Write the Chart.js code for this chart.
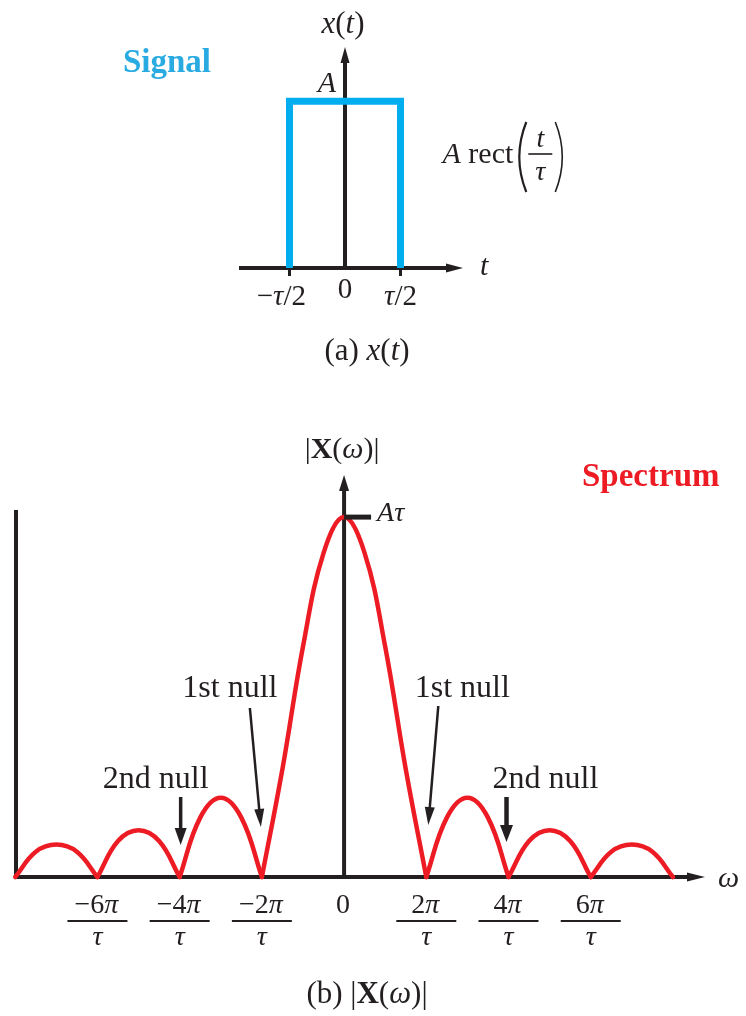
<!DOCTYPE html>
<html>
<head>
<meta charset="utf-8">
<title>Rect pulse and its spectrum</title>
<script src="https://cdn.jsdelivr.net/npm/chart.js@4.4.1/dist/chart.umd.min.js"></script>
<style>
  html, body { margin: 0; padding: 0; background: #fff; }
  #wrap { position: relative; width: 746px; height: 1016px; overflow: hidden; }
  #signalChart { position: absolute; left: 0; top: 0; }
  #spectrumChart { position: absolute; left: 0; top: 400px; }
</style>
</head>
<body>
<div id="wrap">
  <canvas id="signalChart" width="746" height="380"></canvas>
  <canvas id="spectrumChart" width="746" height="616"></canvas>
</div>
<script>
// x(t) = A rect(t/tau): t in units of tau, amplitude in units of A
const signalT = [-0.5, -0.5, 0.5, 0.5];
const signalX = [0, 1, 1, 0];
const signalTicks = [-0.5, 0, 0.5];
const signalTickLabels = ['−τ/2', '0', 'τ/2'];

// |X(w)|: w in units of pi/tau, magnitude in units of A*tau
const omega = [-8, -7.5, -7, -6.5, -6, -5.5, -5, -4.5, -4, -3.5, -3, -2.5, -2,
               -1.5, -1, -0.5, 0, 0.5, 1, 1.5, 2,
               2.5, 3, 3.5, 4, 4.5, 5, 5.5, 6, 6.5, 7, 7.5, 8];
const magnitude = [0, 0.07, 0.09, 0.07, 0, 0.10, 0.13, 0.10, 0, 0.165, 0.22, 0.165, 0,
                   0.30, 0.64, 0.90, 1.00, 0.90, 0.64, 0.30, 0,
                   0.165, 0.22, 0.165, 0, 0.10, 0.13, 0.10, 0, 0.07, 0.09, 0.07, 0];
const spectrumTicks = [-6, -4, -2, 0, 2, 4, 6];
const spectrumTickLabels = ['−6π', '−4π', '−2π', '0', '2π', '4π', '6π'];

const SERIF = '"Liberation Serif", "Times New Roman", serif';
const INK = '#231f20';
const BLUE = '#00aeef';
const RED = '#ed1c24';

// --- kleine Zeichenhelfer ---
function runFont(style, size) {
    return `${style || ''} ${size}px ${SERIF}`;
}

// runs = [[text, style], ...]
function drawRuns(ctx, runs, x, y, size, align, color) {
    let total = 0;
    runs.forEach(r => { ctx.font = runFont(r[1], size); total += ctx.measureText(r[0]).width; });
    let cx = align === 'center' ? x - total / 2 : (align === 'right' ? x - total : x);
    ctx.fillStyle = color || INK;
    ctx.textAlign = 'left';
    ctx.textBaseline = 'alphabetic';
    runs.forEach(r => {
        ctx.font = runFont(r[1], size);
        ctx.fillText(r[0], cx, y);
        cx += ctx.measureText(r[0]).width;
    });
    return total;
}

// greek letters italic, everything else upright
function mathRuns(str) {
    const runs = [];
    for (const ch of str) {
        const style = 'τπω'.includes(ch) ? 'italic' : '';
        if (runs.length && runs[runs.length - 1][1] === style) runs[runs.length - 1][0] += ch;
        else runs.push([ch, style]);
    }
    return runs;
}

function runsWidth(ctx, runs, size) {
    let w = 0;
    runs.forEach(r => { ctx.font = runFont(r[1], size); w += ctx.measureText(r[0]).width; });
    return w;
}

function line(ctx, x1, y1, x2, y2, width, color) {
    ctx.beginPath();
    ctx.moveTo(x1, y1);
    ctx.lineTo(x2, y2);
    ctx.lineWidth = width;
    ctx.strokeStyle = color || INK;
    ctx.lineCap = 'butt';
    ctx.stroke();
}

function arrowHead(ctx, tipX, tipY, angle, len, half, color) {
    ctx.save();
    ctx.translate(tipX, tipY);
    ctx.rotate(angle);
    ctx.beginPath();
    ctx.moveTo(0, 0);
    ctx.lineTo(-len, -half);
    ctx.lineTo(-len, half);
    ctx.closePath();
    ctx.fillStyle = color || INK;
    ctx.fill();
    ctx.restore();
}

// arrow from (x1,y1) to tip (x2,y2)
function arrow(ctx, x1, y1, x2, y2, width, len, half) {
    const a = Math.atan2(y2 - y1, x2 - x1);
    line(ctx, x1, y1, x2 - Math.cos(a) * (len - 2), y2 - Math.sin(a) * (len - 2), width);
    arrowHead(ctx, x2, y2, a, len, half);
}

// --- Plugin: Achsen und Beschriftung für x(t) ---
const signalDecor = {
    id: 'signalDecor',
    beforeDatasetsDraw(chart) {
        const ctx = chart.ctx;
        const xs = chart.scales.x, ys = chart.scales.y;
        const x0 = xs.getPixelForValue(0), y0 = ys.getPixelForValue(0);
        ctx.save();
        line(ctx, xs.left, y0, xs.right - 14, y0, 4);
        arrowHead(ctx, xs.right, y0, 0, 17, 4.5);
        line(ctx, x0, y0, x0, ys.top + 14, 4);
        arrowHead(ctx, x0, ys.top, -Math.PI / 2, 16, 4.5);
        signalTicks.forEach(v => {
            if (v !== 0) {
                const px = xs.getPixelForValue(v);
                line(ctx, px, y0, px, y0 + 8, 3);
            }
        });
        ctx.restore();
    },
    afterDraw(chart) {
        const ctx = chart.ctx;
        const xs = chart.scales.x, ys = chart.scales.y;
        const x0 = xs.getPixelForValue(0), y0 = ys.getPixelForValue(0), yA = ys.getPixelForValue(1);
        ctx.save();
        drawRuns(ctx, [['x', 'italic'], ['(', ''], ['t', 'italic'], [')', '']], x0 - 2, ys.top - 14, 31, 'center');
        drawRuns(ctx, [['Signal', 'bold']], 123, 72, 33, 'left', '#29abe2');
        drawRuns(ctx, [['A', 'italic']], x0 - 9, yA - 9, 30, 'right');
        drawRuns(ctx, [['t', 'italic']], xs.right + 17, y0 + 7, 30, 'left');

        // tick labels, minus hangs to the left of the centred part
        signalTicks.forEach((v, i) => {
            const lbl = signalTickLabels[i];
            const px = xs.getPixelForValue(v);
            if (lbl === '0') {
                drawRuns(ctx, mathRuns(lbl), px, y0 + 30, 29, 'center');
                return;
            }
            const neg = lbl.startsWith('−');
            const body = mathRuns(neg ? lbl.slice(1) : lbl);
            const w = runsWidth(ctx, body, 29);
            if (neg) drawRuns(ctx, [['−', '']], px - w / 2, y0 + 37, 29, 'right');
            drawRuns(ctx, body, px - w / 2, y0 + 37, 29, 'left');
        });

        // A rect(t/tau)
        const rx = xs.getPixelForValue(0.5) + 42;
        const ry = 163;
        const w1 = drawRuns(ctx, [['A', 'italic'], [' rect', '']], rx, ry, 30, 'left');
        const pl = rx + w1 + 8;
        ctx.lineWidth = 2.2;
        ctx.strokeStyle = INK;
        ctx.beginPath();
        ctx.moveTo(pl + 5, ry - 41);
        ctx.quadraticCurveTo(pl - 9, ry - 6, pl + 5, ry + 29);
        ctx.stroke();
        const fc = pl + 19;
        drawRuns(ctx, [['t', 'italic']], fc, ry - 16, 28, 'center');
        line(ctx, fc - 12, ry - 9, fc + 12, ry - 9, 1.6);
        drawRuns(ctx, [['τ', 'italic']], fc, ry + 17, 28, 'center');
        const pr = fc + 15;
        ctx.beginPath();
        ctx.moveTo(pr, ry - 41);
        ctx.quadraticCurveTo(pr + 14, ry - 6, pr, ry + 29);
        ctx.stroke();

        drawRuns(ctx, [['(a) ', ''], ['x', 'italic'], ['(', ''], ['t', 'italic'], [')', '']], 367, 360, 31, 'center');
        ctx.restore();
    }
};

// --- Plugin: Achsen und Beschriftung für |X(w)| ---
const spectrumDecor = {
    id: 'spectrumDecor',
    beforeDatasetsDraw(chart) {
        const ctx = chart.ctx;
        const xs = chart.scales.x, ys = chart.scales.y;
        const x0 = xs.getPixelForValue(0), y0 = ys.getPixelForValue(0);
        ctx.save();
        line(ctx, xs.left, y0, xs.right - 14, y0, 4);
        arrowHead(ctx, xs.right, y0, 0, 18, 4.5);
        line(ctx, x0, y0, x0, ys.top + 14, 4);
        arrowHead(ctx, x0, ys.top, -Math.PI / 2, 16, 5);
        // left border line
        line(ctx, xs.left + 2, y0, xs.left + 2, ys.getPixelForValue(1.02), 4);
        ctx.restore();
    },
    afterDraw(chart) {
        const ctx = chart.ctx;
        const xs = chart.scales.x, ys = chart.scales.y;
        const x0 = xs.getPixelForValue(0), y0 = ys.getPixelForValue(0), y1 = ys.getPixelForValue(1);
        ctx.save();
        line(ctx, x0, y1, x0 + 27, y1, 5);
        drawRuns(ctx, [['A', 'italic'], ['τ', 'italic']], x0 + 33, y1 + 4, 28, 'left');
        drawRuns(ctx, [['|', ''], ['X', 'bold'], ['(', ''], ['ω', 'italic'], [')|', '']], x0 - 2, ys.top - 17, 30, 'center');
        drawRuns(ctx, [['Spectrum', 'bold']], 582, 86, 33, 'left', RED);
        drawRuns(ctx, [['ω', 'italic']], xs.right + 13, y0 + 10, 30, 'left');

        // fraction tick labels
        spectrumTicks.forEach((v, i) => {
            const lbl = spectrumTickLabels[i];
            const px = xs.getPixelForValue(v);
            drawRuns(ctx, mathRuns(lbl), px - 1, y0 + 36, 28, 'center');
            if (lbl !== '0') {
                line(ctx, px - 30, y0 + 44, px + 30, y0 + 44, 2);
                drawRuns(ctx, [['τ', 'italic']], px, y0 + 68, 28, 'center');
            }
        });

        // null annotations
        const n1L = xs.getPixelForValue(-2), n1R = xs.getPixelForValue(2);
        const n2L = xs.getPixelForValue(-4), n2R = xs.getPixelForValue(4);
        drawRuns(ctx, [['1st null', '']], n1L - 32, y0 - 180, 32, 'center');
        drawRuns(ctx, [['1st null', '']], n1R + 36, y0 - 180, 32, 'center');
        arrow(ctx, n1L - 12, y0 - 169, n1L - 1, y0 - 50, 2.5, 18, 5);
        arrow(ctx, n1R + 12, y0 - 171, n1R + 2, y0 - 52, 2.5, 18, 5);
        drawRuns(ctx, [['2nd null', '']], n2L - 24, y0 - 89, 32, 'center');
        drawRuns(ctx, [['2nd null', '']], n2R + 37, y0 - 89, 32, 'center');
        arrow(ctx, n2L + 1, y0 - 80, n2L + 1, y0 - 32, 3.5, 17, 6);
        arrow(ctx, n2R - 2, y0 - 80, n2R - 2, y0 - 35, 4.5, 17, 6.5);

        drawRuns(ctx, [['(b) |', ''], ['X', 'bold'], ['(', ''], ['ω', 'italic'], [')|', '']], 367, y0 + 126, 31, 'center');
        ctx.restore();
    }
};

// split the spectrum at its nulls so every lobe meets the axis in a cusp
function spectrumLobes() {
    const lobes = [];
    let cur = [];
    omega.forEach((w, i) => {
        cur.push({ x: w, y: magnitude[i] });
        if (magnitude[i] === 0 && cur.length > 1) {
            lobes.push(cur);
            cur = [{ x: w, y: 0 }];
        }
    });
    return lobes;
}

const baseOptions = {
    responsive: false,
    animation: false,
    events: [],
    plugins: { legend: { display: false }, tooltip: { enabled: false } }
};

new Chart(document.getElementById('signalChart').getContext('2d'), {
    type: 'scatter',
    data: {
        datasets: [{
            data: signalT.map((t, i) => ({ x: t, y: signalX[i] })),
            showLine: true,
            borderColor: BLUE,
            borderWidth: 7,
            borderJoinStyle: 'miter',
            borderCapStyle: 'butt',
            pointRadius: 0,
            tension: 0,
            clip: false
        }]
    },
    options: {
        ...baseOptions,
        layout: { padding: { left: 239, right: 283, top: 47, bottom: 112 } },
        scales: {
            x: { type: 'linear', min: -0.955, max: 1.063, display: false },
            y: { type: 'linear', min: 0, max: 1.326, display: false }
        }
    },
    plugins: [signalDecor]
});

new Chart(document.getElementById('spectrumChart').getContext('2d'), {
    type: 'scatter',
    data: {
        datasets: spectrumLobes().map(pts => ({
            data: pts,
            showLine: true,
            borderColor: RED,
            borderWidth: 4.5,
            borderCapStyle: 'round',
            pointRadius: 0,
            tension: 0.4,
            clip: false
        }))
    },
    options: {
        ...baseOptions,
        layout: { padding: { left: 14, right: 41, top: 75, bottom: 139 } },
        scales: {
            x: { type: 'linear', min: -8.03, max: 8.78, display: false },
            y: { type: 'linear', min: 0, max: 1.117, display: false }
        }
    },
    plugins: [spectrumDecor]
});
</script>
</body>
</html>
